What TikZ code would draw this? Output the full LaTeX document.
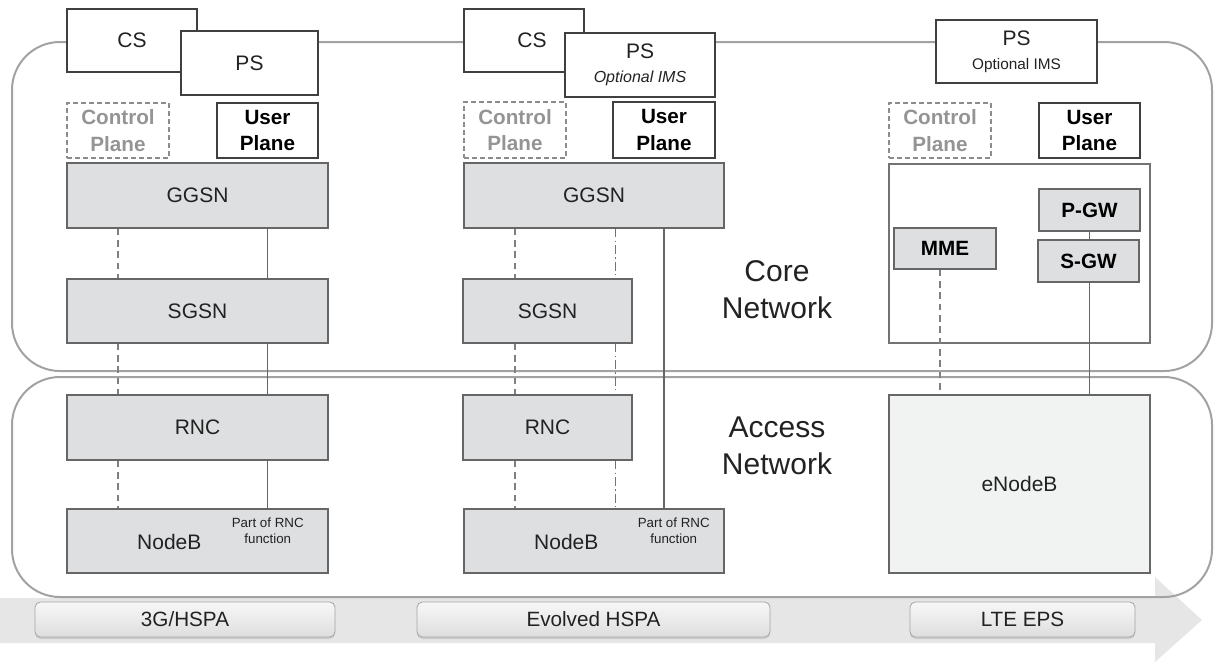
\documentclass[tikz,border=0pt]{standalone}
\usepackage{fontspec}
\setmainfont{Liberation Sans}
\usetikzlibrary{calc, shadows}
\definecolor{boxgray}{HTML}{DEDFE0}
\definecolor{palegray}{HTML}{F1F2F2}
\definecolor{linegray}{HTML}{666666}
\definecolor{framegray}{HTML}{A2A2A2}
\definecolor{bandgray}{HTML}{E6E6E6}
\definecolor{txtdark}{HTML}{222222}
\tikzset{
  box size/.style 2 args={
    minimum width=#1*0.75pt, minimum height=#2*0.75pt
  },
  net frame/.style={
    draw=framegray, line width=1.5pt, rounded corners=36pt
  },
  dom box/.style={
    rectangle, draw=black!75, fill=white, line width=0.9pt,
    inner sep=0pt, align=center, text=txtdark,
    font=\fontsize{15.75pt}{18pt}\selectfont
  },
  plane ctrl/.style={
    rectangle, draw=black!45, line width=0.9pt, dash pattern=on 3.5pt off 2.5pt,
    inner sep=0pt, align=center, text=black!42,
    font=\bfseries\fontsize{15.5pt}{20pt}\selectfont
  },
  plane user/.style={
    plane ctrl, draw=black!75, solid, text=black
  },
  net box/.style={
    rectangle, draw=linegray, fill=boxgray, line width=1.1pt,
    inner sep=0pt, align=center, text=txtdark,
    font=\fontsize{15.75pt}{18pt}\selectfont
  },
  gw box/.style={
    net box, text=black, font=\bfseries\fontsize{15.5pt}{18pt}\selectfont
  },
  small txt/.style={
    align=center, inner sep=0pt, text=txtdark,
    font=\fontsize{10pt}{12pt}\selectfont
  },
  big txt/.style={
    align=center, inner sep=0pt, text=txtdark,
    font=\fontsize{22.5pt}{27.75pt}\selectfont
  },
  stage/.style={
    rectangle, rounded corners=4pt, draw=black!35, line width=0.6pt,
    top color=white!97!black, bottom color=black!13,
    drop shadow={shadow xshift=0pt, shadow yshift=-1.5pt, opacity=0.25},
    inner sep=0pt, text=txtdark, font=\fontsize{15.5pt}{18pt}\selectfont
  },
  ctrl link/.style={
    draw=black!50, line width=0.8pt, dash pattern=on 5pt off 3.5pt
  },
  mix link/.style={
    draw=black!55, line width=0.8pt, dash pattern=on 6.5pt off 2.5pt on 1pt off 2.5pt
  },
  user link/.style={
    draw=linegray, line width=1.1pt
  }
}
\begin{document}
\begin{tikzpicture}[x=0.75pt, y=-0.75pt]
  \useasboundingbox (0,0) rectangle (1216,664);

  % evolution band
  \fill[bandgray] (0,598) -- (1155,598) -- (1155,577) -- (1202,620)
    -- (1155,662) -- (1155,643) -- (0,643) -- cycle;

  % core and access frames
  \draw[net frame] (12,42) rectangle (1212,371);
  \draw[net frame] (12,377) rectangle (1212,597);

  % 3G/HSPA
  \node (cs1) [dom box, box size={130}{63}] at (132,40.5) {CS};
  \node (ps1) [dom box, box size={137}{64}] at (249.5,63) {PS};
  \node (cp1) [plane ctrl, box size={102}{55}] at (118,130.5) {Control\\Plane};
  \node (up1) [plane user, box size={101}{55}] at (267.5,130.5) {User\\Plane};
  \node (ggsn1) [net box, box size={261}{65}] at (197.5,195.5) {GGSN};
  \node (sgsn1) [net box, box size={261}{64}] at (197.5,311) {SGSN};
  \node (rnc1) [net box, box size={261}{65}] at (197.5,427.5) {RNC};
  \node (nodeb1) [net box, box size={261}{64}] at (197.5,541) {};
  \node (nb1txt) [net box, draw=none, box size={10}{10}] at ($(nodeb1.west)+(103,1)$) {NodeB};
  \node (nb1rnc) [small txt] at ($(nodeb1.east)+(-61,-10)$) {Part of RNC\\function};

  % Evolved HSPA
  \node (cs2) [dom box, box size={120}{63}] at (524,40.5) {\hspace*{12pt}CS};
  \node (ps2) [dom box, box size={150}{64}] at (640,65)
    {PS\\[0pt]{\fontsize{12pt}{12pt}\selectfont\itshape Optional IMS}};
  \node (cp2) [plane ctrl, box size={102}{56}] at (515,130) {Control\\Plane};
  \node (up2) [plane user, box size={102}{56}] at (664,130) {User\\Plane};
  \node (ggsn2) [net box, box size={260}{65}] at (594,195.5) {GGSN};
  \node (sgsn2) [net box, box size={169}{64}] at (547.5,311) {SGSN};
  \node (rnc2) [net box, box size={169}{65}] at (547.5,427.5) {RNC};
  \node (nodeb2) [net box, box size={260}{64}] at (594,541) {};
  \node (nb2txt) [net box, draw=none, box size={10}{10}] at ($(nodeb2.west)+(103,1)$) {NodeB};
  \node (nb2rnc) [small txt] at ($(nodeb2.east)+(-51,-10)$) {Part of RNC\\function};
  \coordinate (mix2) at ($(sgsn2.north east)+(-17,0)$);

  % LTE EPS
  \node (ps3) [dom box, box size={161}{63}] at (1016.5,51.5)
    {PS\\[0pt]{\fontsize{11.5pt}{12pt}\selectfont Optional IMS}};
  \node (cp3) [plane ctrl, box size={102}{55}] at (940,130.5) {Control\\Plane};
  \node (up3) [plane user, box size={101}{55}] at (1089.5,130.5) {User\\Plane};
  \node (epc) [dom box, draw=black!55, box size={261}{179}] at (1019.5,253.5) {};
  \node (pgw) [gw box, box size={101}{42}] at (1089.5,210) {P-GW};
  \node (sgw) [gw box, box size={101}{42}] at (1088.5,261) {S-GW};
  \node (mme) [gw box, box size={102}{41}] at (945,248.5) {MME};
  \node (enb) [net box, fill=palegray, box size={261}{178}] at (1019.5,484) {eNodeB};

  % network labels
  \node (core) [big txt] at (777,289.5) {Core\\Network};
  \node (access) [big txt] at (777,446) {Access\\Network};

  % stages
  \node (st1) [stage, box size={300}{35}] at (185,619.5) {3G/HSPA};
  \node (st2) [stage, box size={353}{35}] at (593.5,619.5) {Evolved HSPA};
  \node (st3) [stage, box size={225}{35}] at (1022.5,619.5) {LTE EPS};

  % control plane links
  \draw[ctrl link] (ggsn1.south -| cp1) -- (sgsn1.north -| cp1);
  \draw[ctrl link] (sgsn1.south -| cp1) -- (rnc1.north -| cp1);
  \draw[ctrl link] (rnc1.south -| cp1) -- (nodeb1.north -| cp1);
  \draw[ctrl link] (ggsn2.south -| cp2) -- (sgsn2.north -| cp2);
  \draw[ctrl link] (sgsn2.south -| cp2) -- (rnc2.north -| cp2);
  \draw[ctrl link] (rnc2.south -| cp2) -- (nodeb2.north -| cp2);
  \draw[ctrl link] (mme.south -| cp3) -- (enb.north -| cp3);

  % mixed links
  \draw[mix link] (ggsn2.south -| mix2) -- (mix2);
  \draw[mix link] (sgsn2.south -| mix2) -- (rnc2.north -| mix2);
  \draw[mix link] (rnc2.south -| mix2) -- (nodeb2.north -| mix2);

  % user plane links
  \draw[user link] (ggsn1.south -| up1) -- (sgsn1.north -| up1);
  \draw[user link] (sgsn1.south -| up1) -- (rnc1.north -| up1);
  \draw[user link] (rnc1.south -| up1) -- (nodeb1.north -| up1);
  \draw[user link] (ggsn2.south -| up2) -- (nodeb2.north -| up2);
  \draw[user link] (pgw.south -| up3) -- (sgw.north -| up3);
  \draw[user link] (sgw.south -| up3) -- (enb.north -| up3);
\end{tikzpicture}
\end{document}
